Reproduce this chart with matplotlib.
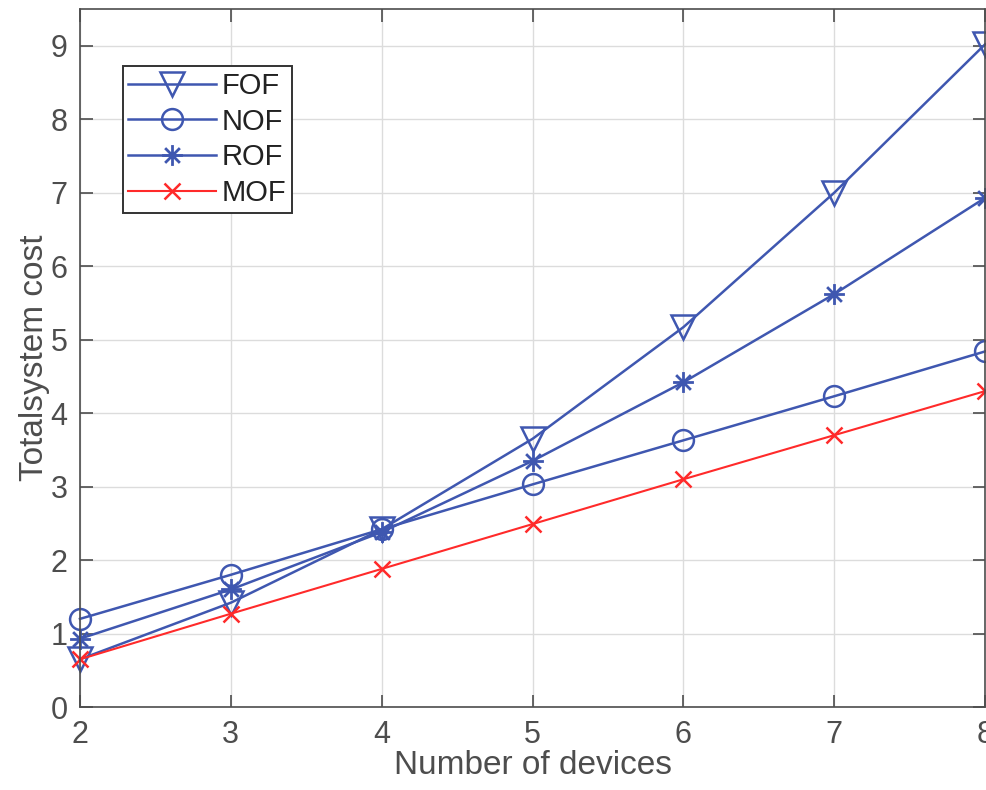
import matplotlib.pyplot as plt
from matplotlib.path import Path

plt.rcParams['font.family'] = ['Liberation Sans', 'DejaVu Sans']

# данные
devices = [2, 3, 4, 5, 6, 7, 8]
fof = [0.65, 1.42, 2.42, 3.65, 5.17, 7.0, 9.02]
nof = [1.2, 1.8, 2.42, 3.03, 3.63, 4.23, 4.84]
rof = [0.93, 1.6, 2.38, 3.35, 4.42, 5.62, 6.93]
mof = [0.65, 1.27, 1.88, 2.49, 3.1, 3.7, 4.3]

blue = "#3f57b0"
red = "#ff2a2a"
grey = "#4d4d4d"

# звёздочка как в матлабе (+ и x вместе)
d = 0.7071
ast = Path([(-1, 0), (1, 0), (0, -1), (0, 1), (-d, -d), (d, d), (-d, d), (d, -d)],
           [Path.MOVETO, Path.LINETO] * 4)

fig = plt.figure(figsize=(9.86, 7.9), dpi=100)
ax = fig.add_axes([0.0811, 0.105, 0.918, 0.8836])

ax.plot(devices, fof, color=blue, marker="v", markersize=17, markerfacecolor="none",
        markeredgewidth=1.8, linewidth=1.8, label="FOF", clip_on=False)
ax.plot(devices, nof, color=blue, marker="o", markersize=15, markerfacecolor="none",
        markeredgewidth=1.8, linewidth=1.8, label="NOF", clip_on=False)
ax.plot(devices, rof, color=blue, marker=ast, markersize=15,
        markeredgewidth=2.0, linewidth=1.8, label="ROF", clip_on=False)
ax.plot(devices, mof, color=red, marker="x", markersize=11, markeredgewidth=1.8,
        linewidth=1.5, label="MOF", clip_on=False)

ax.set_xlim(2, 8)
ax.set_ylim(0, 9.5)
ax.set_xticks(devices)
ax.set_yticks(range(0, 10))

# сетка
ax.grid(True, color="#dcdcdc", linewidth=1.0)
ax.set_axisbelow(True)

for s in ax.spines.values():
    s.set_color(grey)
    s.set_linewidth(1.2)
ax.tick_params(direction="in", length=9, width=1.2, colors=grey, labelsize=22,
               top=True, right=True, pad=9)

ax.set_xlabel("Number of devices", fontsize=24, color=grey, labelpad=0)
ax.set_ylabel("Totalsystem cost", fontsize=24, color=grey, labelpad=0)

leg = ax.legend(loc="upper left", bbox_to_anchor=(0.047, 0.918), fontsize=21,
                fancybox=False, framealpha=1, edgecolor="#333333",
                handlelength=3.0, handletextpad=0.2, borderpad=0.2,
                labelspacing=0.26, borderaxespad=0)
leg.get_frame().set_linewidth(1.4)
for t in leg.get_texts():
    t.set_color("#222222")

plt.savefig("out.png", dpi=100)
